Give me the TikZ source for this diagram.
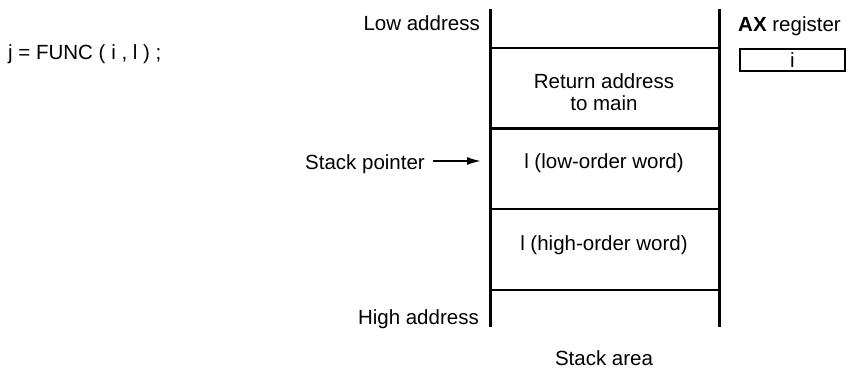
\documentclass[tikz,border=0pt]{standalone}
\usepackage{fontspec}
\setmainfont{Liberation Sans}
\usepackage{tikz}
\usetikzlibrary{arrows.meta}
\tikzstyle{lbl}=[font=\fontsize{20.5}{23}\selectfont,inner sep=0pt]
\tikzstyle{wall}=[draw,line width=3pt]
\tikzstyle{sep}=[draw,line width=2.2pt]
\tikzstyle{reg}=[draw,line width=2.2pt,minimum width=105pt,minimum height=22pt,inner sep=0pt,font=\fontsize{20.5}{23}\selectfont]
\tikzstyle{arr}=[-{Latex[length=14pt,width=8pt]},draw,line width=1.8pt]

\begin{document}
\begin{tikzpicture}[x=1pt,y=1pt]
      \useasboundingbox (0,0) rectangle (851,-374);
      % stack walls
      \coordinate (lt) at (490,-9);
      \coordinate (lb) at (490,-327);
      \coordinate (rt) at (719,-9);
      \coordinate (rb) at (719,-327);
      \draw[wall] (lt) -- (lb);
      \draw[wall] (rt) -- (rb);
      \foreach \y in {48,128.5,209,290}
        \draw[sep] (490,-\y) -- (719,-\y);
      % cells
      \node[lbl,anchor=base] (ret1) at (604,-89) {Return address};
      \node[lbl,anchor=base] (ret2) at (604,-111) {to main};
      \node[lbl,anchor=base] (low) at (604,-169) {l (low-order word)};
      \node[lbl,anchor=base] (high) at (604,-250) {l (high-order word)};
      % left side
      \node[lbl,anchor=base east] (loadr) at (480,-30.5) {Low address};
      \node[lbl,anchor=base east] (hiadr) at (479,-324) {High address};
      \node[lbl,anchor=base east] (sp) at (425,-170) {Stack pointer};
      \coordinate (sptip) at (481,-161);
      \draw[arr,shorten <=8pt] (sp.east |- sptip) -- (sptip);
      \node[lbl,anchor=base west] (call) at (8,-60) {j = FUNC ( i , l ) ;};
      \node[lbl,anchor=base] (area) at (604,-365) {Stack area};
      % register
      \node[lbl,anchor=base west] (axlbl) at (738,-32) {\textbf{AX} register};
      \node[reg] (ax) at (792.5,-60) {i};
  \end{tikzpicture}
\end{document}
